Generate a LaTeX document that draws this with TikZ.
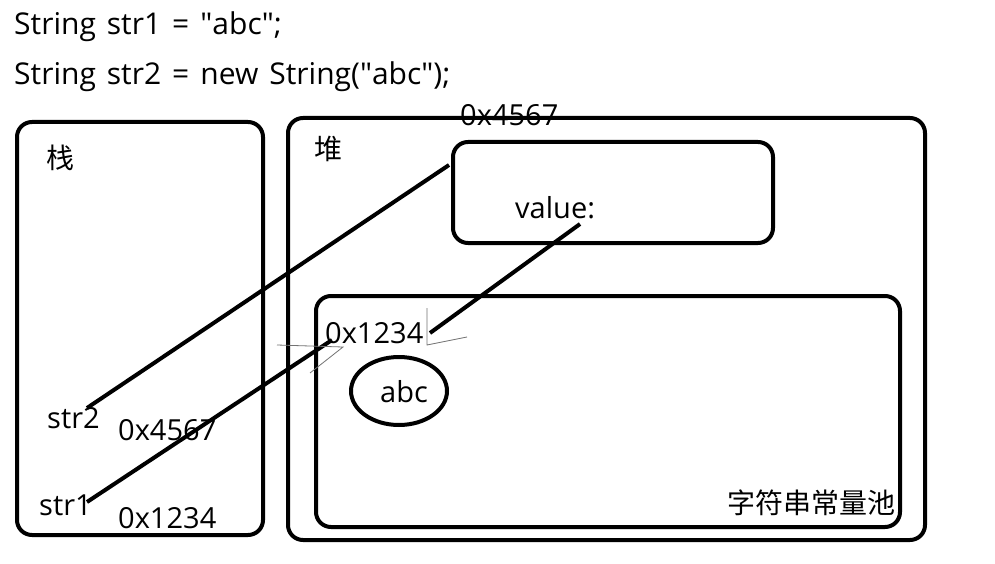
\documentclass[tikz,border=0pt]{standalone}
\usepackage{fontspec}
\usetikzlibrary{shapes.geometric}
\setmainfont{Open Sans}
\newfontfamily\cjk{Noto Sans CJK SC}
\newcommand{\dq}{\textquotedbl}
\newcommand{\codefont}{\fontsize{30}{36}\selectfont\spaceskip=11pt plus 1pt\relax}
\begin{document}
\begin{tikzpicture}[x=1pt,y=-1pt,
  box/.style={draw=black,line width=4pt,rounded corners=15pt},
  ptr/.style={draw=black,line width=4pt},
  scratch/.style={draw=black!55,line width=0.8pt},
  code/.style={anchor=base west,inner sep=0pt,font=\codefont},
  txt/.style={anchor=base west,inner sep=0pt,font=\fontsize{29}{34}\selectfont},
  ctxt/.style={anchor=center,inner sep=0pt,font=\cjk\fontsize{28}{32}\selectfont}]
\useasboundingbox[fill=white] (0,0) rectangle (995,564);
% boxes
\draw[box] (17,122) rectangle (263,535);
\draw[box] (288,118) rectangle (925,540);
\draw[box] (453,142) rectangle (773,243);
\draw[box] (316,296) rectangle (900,527);
\node[draw=black,line width=4pt,ellipse,minimum width=96pt,minimum height=68pt,inner sep=0pt] (abcell) at (399,391) {};
% texts
\node[code] (l1) at (14,35) {String str1 = \dq abc\dq;};
\node[code] (l2) at (14,85) {String str2 = new String(\dq abc\dq);};
\node[ctxt] (zhan) at (60,158) {栈};
\node[ctxt] (dui) at (328,149) {堆};
\node[txt] (addrobj) at (460,126) {0x4567};
\node[txt] (value) at (515,218) {value:};
\node[txt] (addrpool) at (325,343) {0x1234};
\node[txt] (abc) at (380,402) {abc};
\node[txt] (str2) at (47,428) {str2};
\node[txt] (a2) at (118,440) {0x4567};
\node[txt] (str1) at (39,515) {str1};
\node[txt] (a1) at (118,528) {0x1234};
\node[ctxt,anchor=west] (pool) at (727,503) {字符串常量池};
% pointer coordinates
\coordinate (s2) at (87,408);
\coordinate (o2) at (449,165);
\coordinate (s1) at (87,502);
\coordinate (p1) at (332,340);
\coordinate (v1) at (580,224);
\coordinate (v2) at (430,333);
\draw[ptr] (s2) -- (o2);
\draw[ptr] (s1) -- (p1);
\draw[ptr] (v1) -- (v2);
% hand-drawn arrow scratches
\coordinate (h1) at (427,308);
\coordinate (h2) at (427,345);
\coordinate (h3) at (467,337);
\draw[scratch] (h1) -- (h2) -- (h3);
\coordinate (k1) at (277,345);
\coordinate (k2) at (343,347);
\coordinate (k3) at (310,373);
\draw[scratch] (k1) -- (k2) -- (k3);
\end{tikzpicture}
\end{document}
